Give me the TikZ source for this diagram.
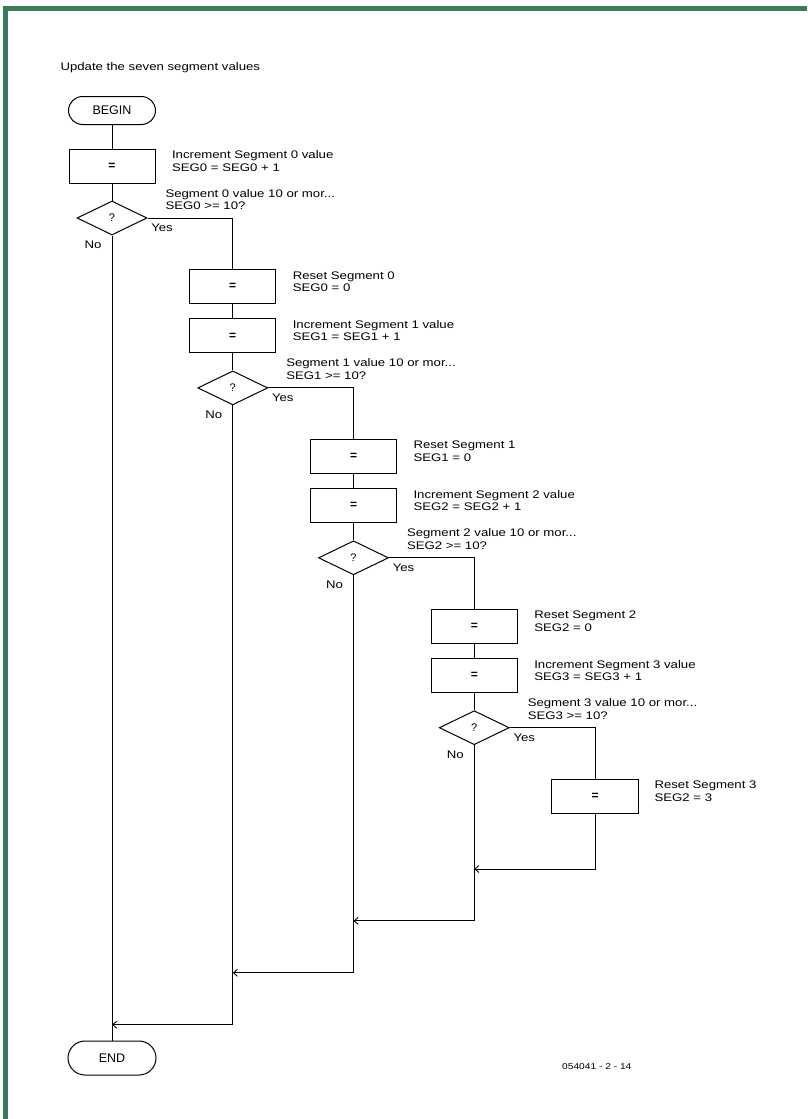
\documentclass[tikz,border=0pt]{standalone}
\usepackage{fontspec}
\setmainfont{Liberation Sans}
\newfontfamily\lfont[FakeStretch=1.2]{Liberation Sans}
\usetikzlibrary{shapes.geometric,arrows.meta}
\definecolor{frame}{RGB}{58,125,88}
\begin{document}
\begin{tikzpicture}[x=1pt,y=-1pt,
  line width=1pt,
  term/.style={draw,rectangle,minimum width=87pt,inner sep=0pt,font=\fontsize{12.5}{14}\selectfont},
  proc/.style={draw,rectangle,minimum width=86pt,minimum height=34pt,inner sep=0pt,font=\bfseries\fontsize{12}{14}\selectfont},
  dec/.style={draw,diamond,minimum width=70pt,minimum height=34pt,inner sep=0pt,font=\fontsize{11}{13}\selectfont},
  lab/.style={inner sep=0pt,align=left,font=\lfont\fontsize{11}{12.5}\selectfont},
  conn/.style={line width=1pt},
  merge/.style={line width=1pt,-{Straight Barb[length=4pt,width=7pt,line width=0.9pt]}}]
\useasboundingbox (0,0) rectangle (807,1119);
% frame
\fill[frame] (3.3,6.2) rectangle (807,11);
\fill[frame] (3.3,6.2) rectangle (8.3,1119);
% title
\node[lab,anchor=base west] (title) at (60,70) {Update the seven segment values};
% terminals
\node[term,minimum height=28pt,rounded corners=14pt] (begin) at (112,110.5) {BEGIN};
\node[term,minimum height=34pt,rounded corners=17pt,minimum width=88pt] (end) at (112,1058) {END};
% level 0
\node[proc] (inc0) at (112,166) {=};
\node[dec] (dia0) at (112,218) {?};
\node[proc] (reset0) at (232.75,286.5) {=};
% level 1
\node[proc] (inc1) at (232.75,335.9) {=};
\node[dec] (dia1) at (232.75,387.9) {?};
\node[proc] (reset1) at (353.5,456.4) {=};
% level 2
\node[proc] (inc2) at (353.5,505.8) {=};
\node[dec] (dia2) at (353.5,557.8) {?};
\node[proc] (reset2) at (474.25,626.3) {=};
% level 3
\node[proc] (inc3) at (474.25,675.7) {=};
\node[dec] (dia3) at (474.25,727.7) {?};
\node[proc,minimum width=87pt] (reset3) at (595,796.2) {=};
% merge points
\coordinate (m3) at (474.25,869);
\coordinate (m2) at (353.5,920.9);
\coordinate (m1) at (232.75,972.8);
\coordinate (m0) at (112,1024.7);
% labels (base anchor = baseline of the last line)
\path (inc0.east) ++(16,5) node[lab,anchor=base west] (linc0) {Increment Segment 0 value\\SEG0 = SEG0 + 1};
\path (dia0.center) ++(53,-8.5) node[lab,anchor=base west] (ldia0) {Segment 0 value 10 or mor...\\SEG0 >= 10?};
\path (reset0.east) ++(16,5) node[lab,anchor=base west] (lreset0) {Reset Segment 0\\SEG0 = 0};
\path (inc1.east) ++(16,5) node[lab,anchor=base west] (linc1) {Increment Segment 1 value\\SEG1 = SEG1 + 1};
\path (dia1.center) ++(53,-8.5) node[lab,anchor=base west] (ldia1) {Segment 1 value 10 or mor...\\SEG1 >= 10?};
\path (reset1.east) ++(16,5) node[lab,anchor=base west] (lreset1) {Reset Segment 1\\SEG1 = 0};
\path (inc2.east) ++(16,5) node[lab,anchor=base west] (linc2) {Increment Segment 2 value\\SEG2 = SEG2 + 1};
\path (dia2.center) ++(53,-8.5) node[lab,anchor=base west] (ldia2) {Segment 2 value 10 or mor...\\SEG2 >= 10?};
\path (reset2.east) ++(16,5) node[lab,anchor=base west] (lreset2) {Reset Segment 2\\SEG2 = 0};
\path (inc3.east) ++(16,5) node[lab,anchor=base west] (linc3) {Increment Segment 3 value\\SEG3 = SEG3 + 1};
\path (dia3.center) ++(53,-8.5) node[lab,anchor=base west] (ldia3) {Segment 3 value 10 or mor...\\SEG3 >= 10?};
\path (reset3.east) ++(15,5) node[lab,anchor=base west] (lreset3) {Reset Segment 3\\SEG2 = 3};
% yes / no
\foreach \i in {0,1,2,3}{
  \path (dia\i.east) ++(3.3,13.7) node[lab,anchor=base west] (yes\i) {Yes};
  \path (dia\i.south) ++(-10,13) node[lab,anchor=base east] (no\i) {No};
}
% footer
\node[lab,anchor=base west,font=\lfont\fontsize{8.5}{10}\selectfont] (code) at (561.7,1069) {054041 - 2 - 14};
% connectors
\draw[conn] (begin) -- (inc0);
\draw[conn] (inc0) -- (dia0);
\draw[conn] (dia0.east) -| (reset0.north);
\draw[conn] (reset0) -- (inc1);
\draw[conn] (inc1) -- (dia1);
\draw[conn] (dia1.east) -| (reset1.north);
\draw[conn] (reset1) -- (inc2);
\draw[conn] (inc2) -- (dia2);
\draw[conn] (dia2.east) -| (reset2.north);
\draw[conn] (reset2) -- (inc3);
\draw[conn] (inc3) -- (dia3);
\draw[conn] (dia3.east) -| (reset3.north);
\draw[merge] (reset3.south) |- (m3);
\draw[merge] (dia3.south) |- (m2);
\draw[merge] (dia2.south) |- (m1);
\draw[merge] (dia1.south) |- (m0);
\draw[conn] (dia0.south) -- (end.north);
\end{tikzpicture}
\end{document}
